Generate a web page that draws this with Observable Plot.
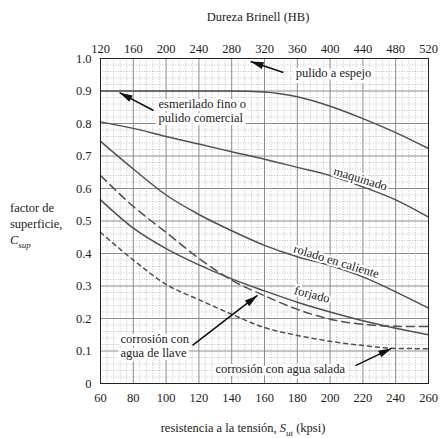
<!DOCTYPE html>
<html><head><meta charset="utf-8">
<script src="https://cdn.jsdelivr.net/npm/d3@7"></script>
<script src="https://cdn.jsdelivr.net/npm/@observablehq/plot@0.6"></script>
<style>
body{margin:0;background:#fff;}
#wrap{position:relative;width:441px;height:438px;font-family:'Liberation Serif',serif;color:#222;overflow:hidden;}
#wrap svg{position:absolute;left:0;top:0;}
.lab{position:absolute;font-family:'Liberation Serif',serif;font-size:12.5px;white-space:nowrap;line-height:16px;}
</style></head><body>
<div id="wrap">
<div id="chart"></div>
<div class="lab" style="left:158px;width:200px;text-align:center;top:9px;">Dureza Brinell (HB)</div>
<div class="lab" style="left:143px;width:200px;text-align:center;top:420px;">resistencia a la tensión, <i>S<sub style="font-size:9px">ut</sub></i> (kpsi)</div>
<div class="lab" style="left:10px;top:200px;">factor de<br>superficie,<br><i>C<sub style="font-size:9px">sup</sub></i></div>
</div>
<script>
// ---- data ----
const sut = [60, 80, 100, 120, 140, 160, 180, 200, 220, 240, 260];
const esmerilado = [0.900, 0.900, 0.900, 0.900, 0.900, 0.897, 0.882, 0.853, 0.815, 0.772, 0.723];
const maquinado  = [0.805, 0.785, 0.760, 0.737, 0.713, 0.690, 0.665, 0.640, 0.605, 0.565, 0.512];
const rolado     = [0.745, 0.660, 0.580, 0.520, 0.470, 0.425, 0.390, 0.363, 0.328, 0.282, 0.232];
const forjado    = [0.565, 0.478, 0.415, 0.365, 0.322, 0.285, 0.250, 0.220, 0.193, 0.170, 0.150];
const aguaLlave  = [0.640, 0.545, 0.465, 0.385, 0.318, 0.270, 0.228, 0.198, 0.182, 0.176, 0.175];
const aguaSalada = [0.465, 0.380, 0.305, 0.258, 0.213, 0.172, 0.148, 0.130, 0.117, 0.108, 0.107];

const xTicks = [60, 80, 100, 120, 140, 160, 180, 200, 220, 240, 260];
const xLabels = ["60","80","100","120","140","160","180","200","220","240","260"];
const hbLabels = ["120","160","200","240","280","320","360","400","440","480","520"];
const yTicks = [0, 0.1, 0.2, 0.3, 0.4, 0.5, 0.6, 0.7, 0.8, 0.9, 1.0];
const yLabels = ["0","0.1","0.2","0.3","0.4","0.5","0.6","0.7","0.8","0.9","1.0"];

// annotations (data coordinates)
const plainNotes = [
  {text:"pulido a espejo", s:179, c:0.957},
  {text:"esmerilado fino o\npulido comercial", s:95.4, c:0.84},
  {text:"corrosión con\nagua de llave", s:72.2, c:0.117},
  {text:"corrosión con agua salada", s:130.1, c:0.046}
];
const curveNotes = [
  {text:"maquinado", s:218.5, c:0.630, rot:17},
  {text:"rolado en caliente", s:203.8, c:0.376, rot:17},
  {text:"forjado", s:189, c:0.274, rot:15}
];
const arrows = [
  {s1:171.6, c1:0.957, s2:151.5, c2:0.991},
  {s1:92.3, c1:0.840, s2:71.6, c2:0.895},
  {s1:116.1, c1:0.117, s2:155.7, c2:0.271},
  {s1:215.5, c1:0.055, s2:237.4, c2:0.108}
];

// ---- layout ----
const W = 441, H = 438, ML = 100, MR = 13, MT = 58, MB = 55;
const kx = (W - ML - MR) / (260 - 60), ky = (H - MT - MB) / 1;
arrows.forEach(a => a.angle = Math.atan2((a.s2 - a.s1) * kx, (a.c2 - a.c1) * ky) * 180 / Math.PI);

const series = [
  {v:esmerilado, dash:null}, {v:maquinado, dash:null}, {v:rolado, dash:null},
  {v:forjado, dash:null}, {v:aguaLlave, dash:"8,5"}, {v:aguaSalada, dash:"4,4"}
];
const minorX = d3.range(60, 261, 4).filter(v => v % 20 !== 0);
const minorY = d3.range(0, 51).filter(i => i % 5 !== 0).map(i => i / 50);
const headSymbol = {draw(ctx){ ctx.moveTo(0,0); ctx.lineTo(-3.6,13); ctx.lineTo(3.6,13); ctx.closePath(); }};
const ink = "#222", curve = "#505050";
const FONT = "'Liberation Serif', serif";

const lineMarks = series.map(sr => Plot.line(sut.map((s,i)=>({s, c:sr.v[i]})), {
  x:"s", y:"c", stroke:curve, strokeWidth:1.5, curve:"monotone-x",
  strokeDasharray: sr.dash || undefined
}));

const chart = Plot.plot({
  width:W, height:H, marginLeft:ML, marginRight:MR, marginTop:MT, marginBottom:MB,
  x:{domain:[60,260]}, y:{domain:[0,1]},
  style:{fontFamily:FONT, fontSize:"12.5px", color:ink, background:"transparent"},
  marks:[
    Plot.ruleX(minorX, {stroke:"#a8a8a8", strokeWidth:0.7, strokeDasharray:"1,1.6"}),
    Plot.ruleY(minorY, {stroke:"#a8a8a8", strokeWidth:0.7, strokeDasharray:"1,1.6"}),
    Plot.ruleX(xTicks, {stroke:"#8c8c8c", strokeWidth:1}),
    Plot.ruleY(yTicks, {stroke:"#8c8c8c", strokeWidth:1}),
    ...lineMarks,
    Plot.frame({stroke:ink, strokeWidth:1}),
    Plot.axisX({anchor:"bottom", ticks:xTicks, tickSize:0, tickPadding:10, label:null,
      tickFormat: d => xLabels[xTicks.indexOf(d)], fill:ink, fontFamily:FONT}),
    Plot.axisX({anchor:"top", ticks:xTicks, tickSize:0, tickPadding:6, label:null,
      tickFormat: d => hbLabels[xTicks.indexOf(d)], fill:ink, fontFamily:FONT}),
    Plot.axisY({anchor:"left", ticks:yTicks, tickSize:0, tickPadding:9, label:null,
      tickFormat: d => yLabels[yTicks.indexOf(d)], fill:ink, fontFamily:FONT}),
    Plot.text(plainNotes, {x:"s", y:"c", text:"text", textAnchor:"start", lineHeight:1.1,
      fill:ink, stroke:"white", strokeWidth:6, fontSize:12.5, fontFamily:FONT}),
    Plot.text(curveNotes, {x:"s", y:"c", text:"text", rotate:"rot",
      fill:ink, stroke:"white", strokeWidth:4, fontSize:12.5, fontFamily:FONT}),
    Plot.link(arrows, {x1:"s1", y1:"c1", x2:"s2", y2:"c2", stroke:"#111", strokeWidth:1.6}),
    Plot.dot(arrows, {x:"s2", y:"c2", symbol:headSymbol, fill:"#111", stroke:"none", rotate:"angle"})
  ]
});
document.getElementById("chart").appendChild(chart);
</script>
</body></html>
